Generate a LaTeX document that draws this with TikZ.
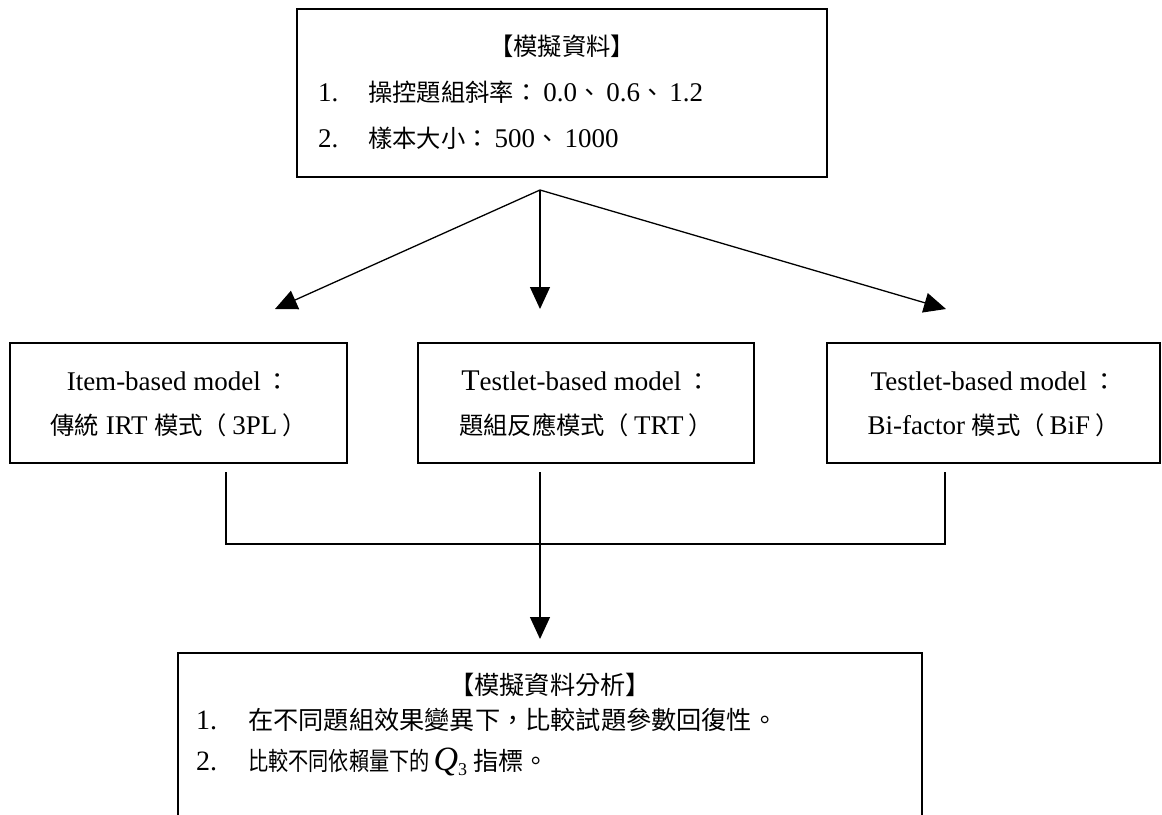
\documentclass[tikz,border=0pt]{standalone}
\usepackage{fontspec}
\setmainfont{Liberation Serif}
\newfontfamily\cjk[Scale=0.9]{Noto Sans CJK TC}
\usetikzlibrary{arrows.meta}
\newcommand\zhtext[1]{{\cjk #1}}
\newcommand\asp{\hspace{5pt}}
\tikzset{
  box/.style={draw=black, line width=1.3pt, rectangle, inner sep=0pt},
  conn/.style={draw=black, line width=1.3pt},
  arr/.style={conn, -{Triangle[length=22pt,width=20pt]}},
  txt/.style={inner sep=0pt, font=\fontsize{27}{27}\selectfont},
  txtb/.style={inner sep=0pt, font=\fontsize{28}{28}\selectfont},
}
\begin{document}
\begin{tikzpicture}[x=1pt,y=-1pt]
\useasboundingbox[fill=white] (0,0) rectangle (1162,814);
% boxes
\node[box, minimum width=530pt, minimum height=168pt] (data) at (562,93) {};
\node[box, minimum width=337pt, minimum height=120pt] (m1) at (178.5,403) {};
\node[box, minimum width=336pt, minimum height=120pt] (m2) at (586,403) {};
\node[box, minimum width=333pt, minimum height=120pt] (m3) at (993.5,403) {};
\node[box, minimum width=744pt, minimum height=220pt] (res) at (550,763) {};
% top box text
\node[txt] (t0) at (562,46) {\zhtext{【模擬資料】}};
\node[txt, anchor=west] (t1) at (318,92) {\makebox[50pt][l]{1.}\zhtext{操控題組斜率：}\asp 0.0\zhtext{、}\asp 0.6\zhtext{、}\asp 1.2};
\node[txt, anchor=west] (t2) at (318,138) {\makebox[50pt][l]{2.}\zhtext{樣本大小：}\asp 500\zhtext{、}\asp 1000};
% model boxes text
\node[txt] (a1) at (178.5,381) {Item-based model\asp\zhtext{：}};
\node[txt] (a2) at (178.5,425) {\zhtext{傳統} IRT \zhtext{模式（}\asp 3PL\asp\zhtext{）}};
\node[txt] (b1) at (586,381) {{\fontsize{30}{30}\selectfont T}estlet-based model\asp\zhtext{：}};
\node[txt] (b2) at (586,425) {\zhtext{題組反應模式（}\asp TRT\asp\zhtext{）}};
\node[txt] (c1) at (993.5,381) {Testlet-based model\asp\zhtext{：}};
\node[txt] (c2) at (993.5,425) {Bi-factor \zhtext{模式（}\asp BiF\asp\zhtext{）}};
% result box text
\node[txtb] (r0) at (550,685) {\zhtext{【模擬資料分析】}};
\node[txtb, anchor=west] (r1) at (196,720) {\makebox[52pt][l]{1.}\zhtext{在不同題組效果變異下，比較試題參數回復性。}};
\node[txtb, anchor=west] (r2) at (196,762) {\makebox[52pt][l]{2.}\scalebox{0.8}[1]{\zhtext{比較不同依賴量下的}}\hspace{4pt}{\fontsize{34}{34}\selectfont\itshape Q}\raisebox{-5pt}{\fontsize{18}{18}\selectfont 3}\hspace{6pt}\zhtext{指標。}};
% connectors
\coordinate (split) at (540,190);
\coordinate (tipL) at (275,309);
\coordinate (tipM) at (540,309);
\coordinate (tipR) at (946,309);
\draw[arr] (split) -- (tipL);
\draw[arr] (split) -- (tipM);
\draw[arr] (split) -- (tipR);
\coordinate (jL) at (226,472);
\coordinate (jR) at (945,472);
\coordinate (jM) at (540,472);
\coordinate (bar) at (540,544);
\coordinate (tipB) at (540,639);
\draw[conn] (jL) |- (bar) -| (jR);
\draw[arr] (jM) -- (tipB);
\end{tikzpicture}
\end{document}
